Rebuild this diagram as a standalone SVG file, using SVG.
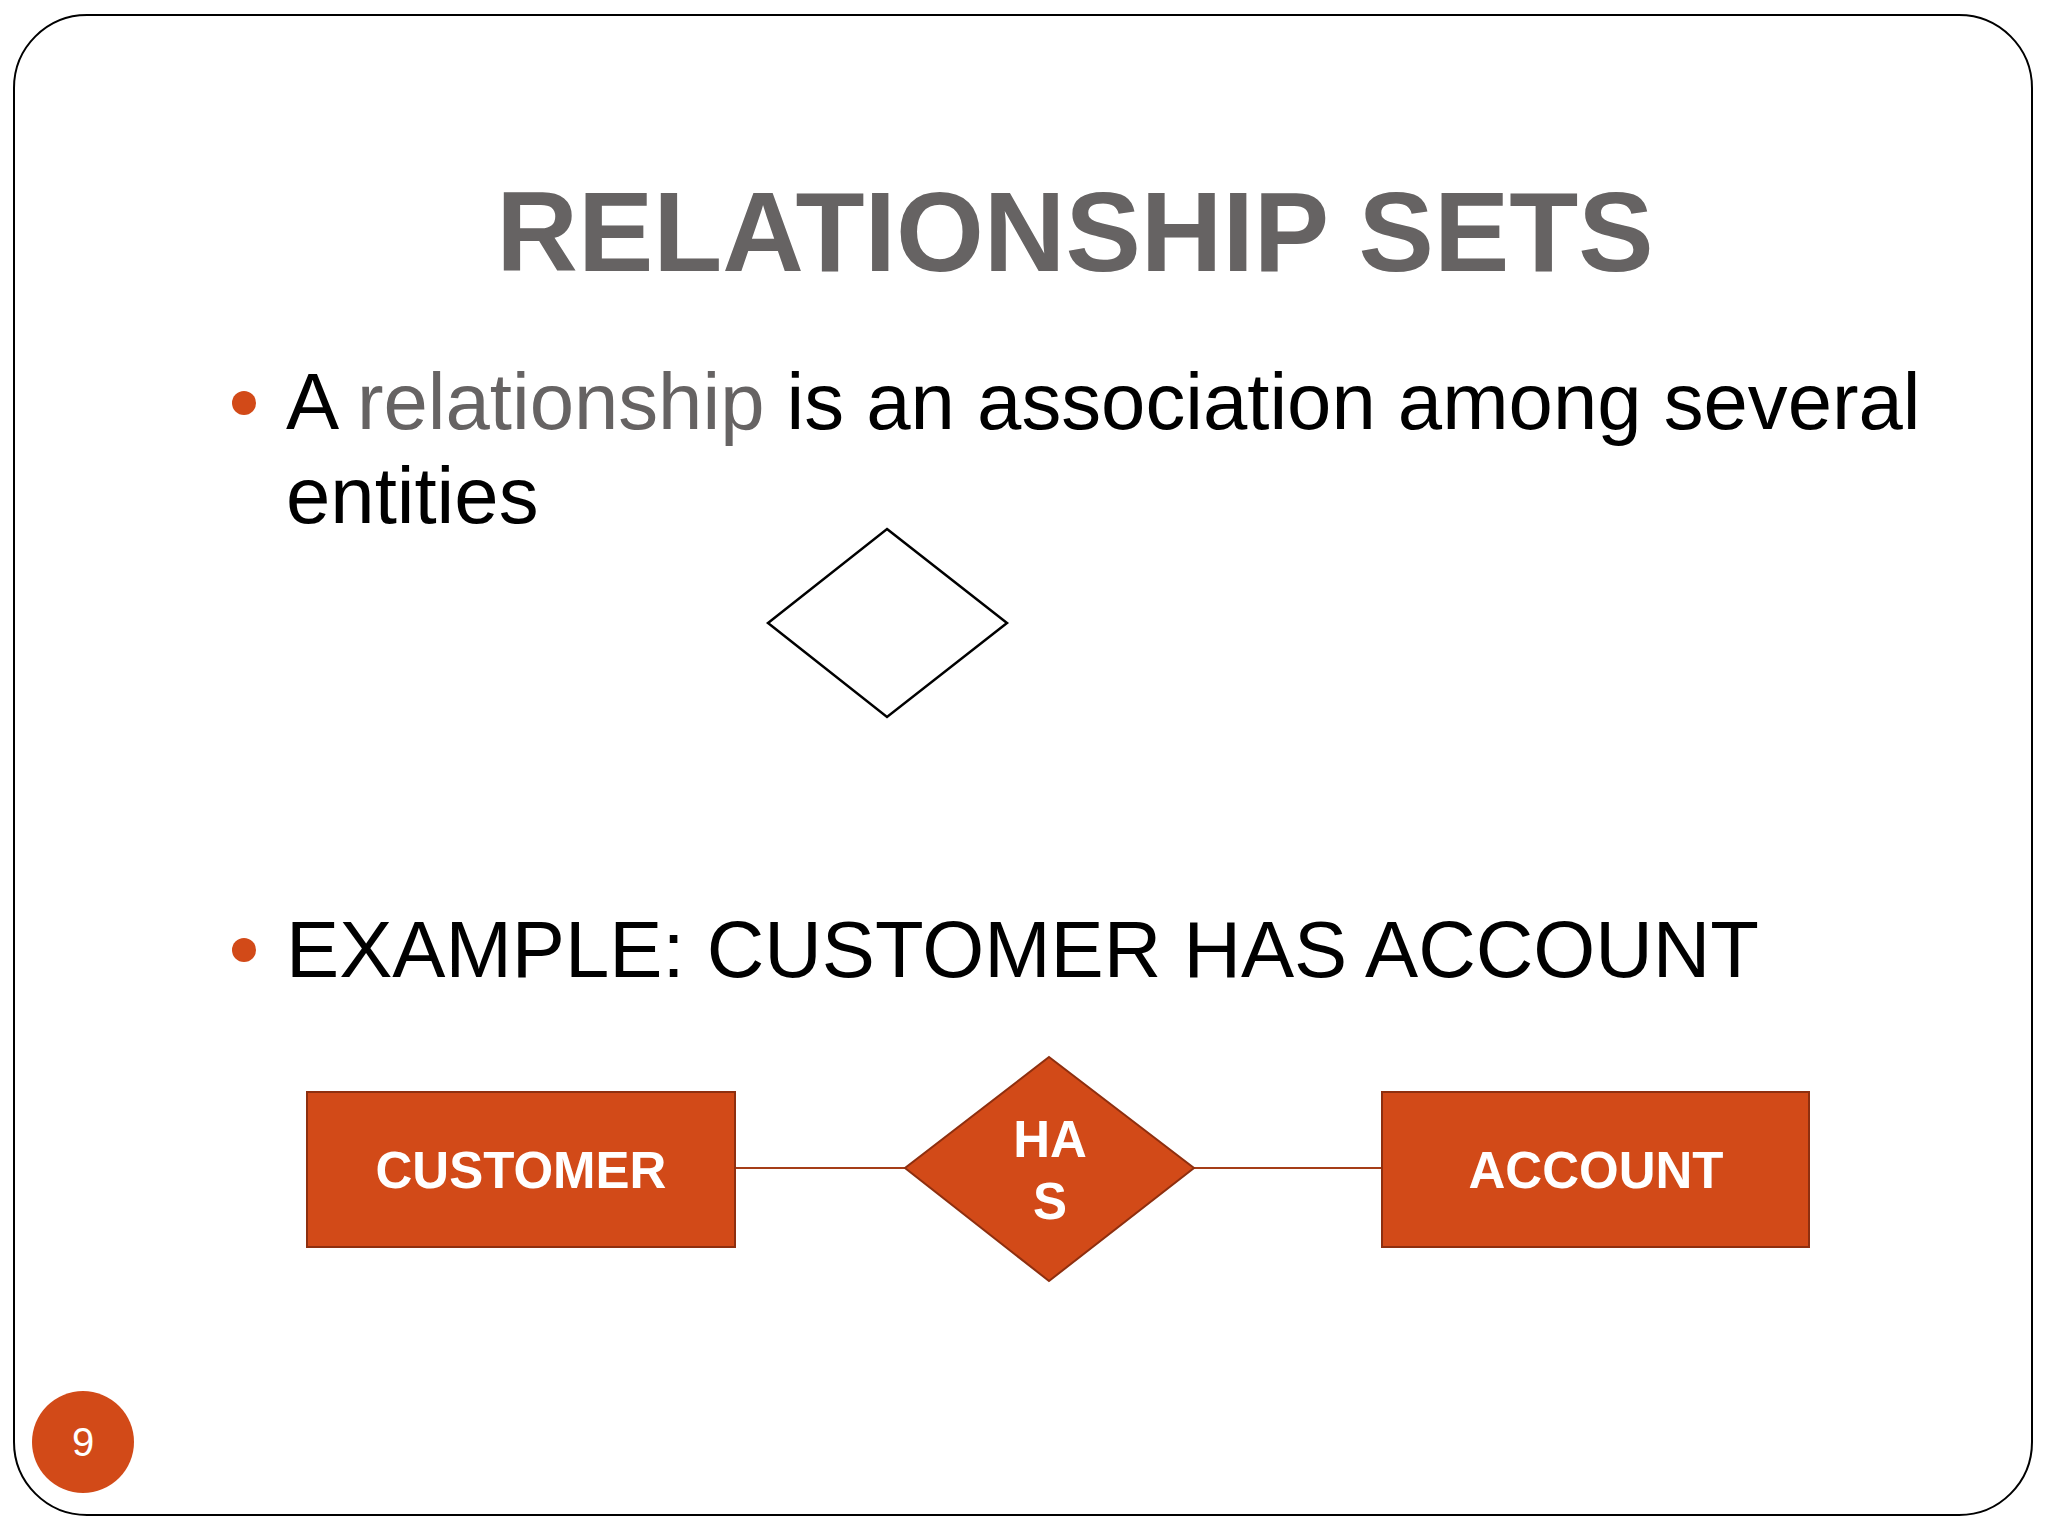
<svg xmlns="http://www.w3.org/2000/svg" width="2048" height="1536" viewBox="0 0 2048 1536">
<style>
.t{font-family:"Liberation Sans",Arial,sans-serif}
.title{font-weight:bold;font-size:113px;fill:#666363}
.body{font-size:79.7px;fill:#000}
.ent{fill:#D24A18;stroke:#8E2F0F;stroke-width:2}
.lbl{font-family:"Liberation Sans",Arial,sans-serif;font-weight:bold;font-size:51px;fill:#fff;text-anchor:middle}
.bullet{fill:#D24A18}
.conn{stroke:#A53D18;stroke-width:2;fill:none}
</style>
<rect x="14" y="15" width="2018" height="1500" rx="73" ry="73" fill="#fff" stroke="#000" stroke-width="2"/>
<text class="t title" x="1075" y="271" text-anchor="middle">RELATIONSHIP SETS</text>
<circle class="bullet" cx="244" cy="403" r="12"/>
<text class="t body" x="286" y="429">A <tspan fill="#666363">relationship</tspan> is an association among several</text>
<text class="t body" x="286" y="523">entities</text>
<g id="rel-symbol">
<polygon points="887,529 1007,623 887,717 768,623" fill="none" stroke="#000" stroke-width="2.5"/>
</g>
<circle class="bullet" cx="244" cy="950" r="12"/>
<text class="t body" x="286" y="977" font-size="79.3">EXAMPLE: CUSTOMER HAS ACCOUNT</text>
<g id="connectors">
<line class="conn" x1="735" y1="1168" x2="905" y2="1168"/>
<line class="conn" x1="1194" y1="1168" x2="1382" y2="1168"/>
</g>
<g id="customer">
<rect class="ent" x="307" y="1092" width="428" height="155"/>
<text class="lbl" x="521" y="1188">CUSTOMER</text>
</g>
<g id="has">
<polygon class="ent" points="1049,1057 1194,1168 1049,1281 905,1168"/>
<text class="lbl" x="1050" y="1157">HA</text>
<text class="lbl" x="1050" y="1219">S</text>
</g>
<g id="account">
<rect class="ent" x="1382" y="1092" width="427" height="155"/>
<text class="lbl" x="1596" y="1188">ACCOUNT</text>
</g>
<g id="page-number">
<circle cx="83" cy="1442" r="51" fill="#D24A18"/>
<text class="t" x="83" y="1456" text-anchor="middle" font-size="40" fill="#fff">9</text>
</g>
</svg>
